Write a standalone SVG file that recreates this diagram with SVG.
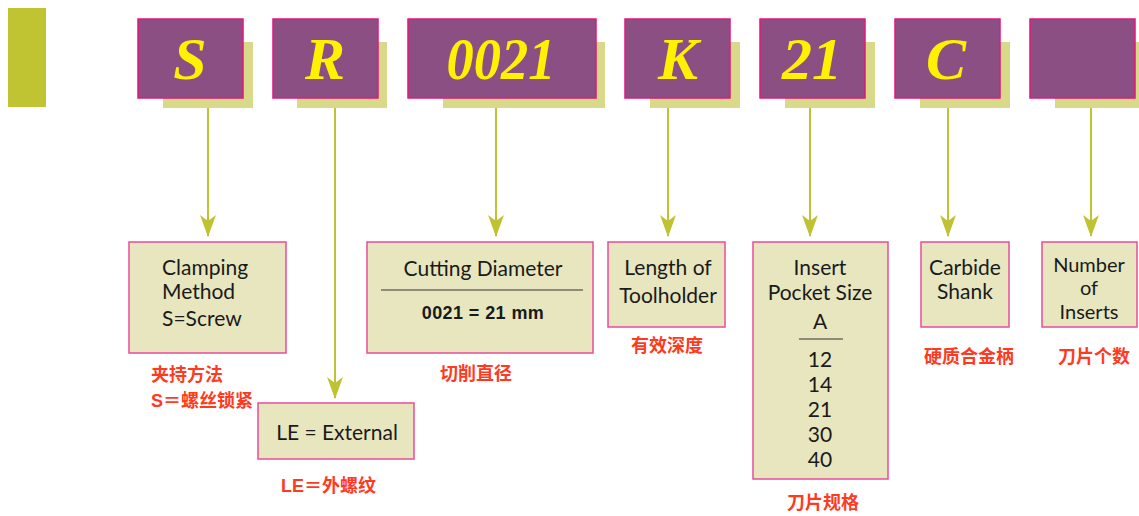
<svg xmlns="http://www.w3.org/2000/svg" width="1139" height="516" viewBox="0 0 1139 516">
<defs>
<marker id="ah" markerWidth="22" markerHeight="16" refX="21" refY="8" orient="auto" markerUnits="userSpaceOnUse" viewBox="0 0 22 16">
<path d="M0,0 L6,8 L0,16 L22,8 Z" fill="#bfc233"/>
</marker>
</defs>
<style>
.code{fill:#8b4f83;stroke:#e4157e;stroke-width:1.5}
.sh{fill:#d9d98a}
.ct{font-family:"Liberation Serif",serif;font-weight:bold;font-style:italic;font-size:60px;fill:#fff200;text-anchor:middle}
.box{fill:#e7e6be;stroke:#ea4b9c;stroke-width:1.5}
.t{font-family:Lato,"Open Sans",sans-serif;font-size:21px;fill:#1a1a1a;text-anchor:middle}
.ts{font-size:20px}
.tl{text-anchor:start}
.tb{font-family:"Liberation Sans",Arial,sans-serif;font-size:18px;font-weight:bold;fill:#1a1a1a;text-anchor:middle;letter-spacing:0.4px}
.cn{font-family:"Liberation Sans","Noto Sans CJK SC",sans-serif;font-size:18px;font-weight:bold;fill:#ff3b1f}
.ln{stroke:#bfc233;stroke-width:2;fill:none}
.rule{stroke:#333;stroke-width:1.2}
</style>
<rect x="8" y="8" width="38" height="99" fill="#c0c432"/>
<g id="code-S"><rect class="sh" x="163" y="42" width="90" height="66"/><rect class="code" x="138" y="19" width="105" height="79"/><text class="ct" x="190" y="79">S</text></g>
<g id="code-R"><rect class="sh" x="297" y="42" width="90" height="66"/><rect class="code" x="273" y="19" width="105" height="79"/><text class="ct" x="325" y="79">R</text></g>
<g id="code-0021"><rect class="sh" x="443" y="42" width="162" height="66"/><rect class="code" x="408" y="19" width="188" height="79"/><text class="ct" x="501" y="79" textLength="109" lengthAdjust="spacingAndGlyphs">0021</text></g>
<g id="code-K"><rect class="sh" x="650" y="42" width="90" height="66"/><rect class="code" x="625" y="19" width="105" height="79"/><text class="ct" x="678" y="79">K</text></g>
<g id="code-21"><rect class="sh" x="785" y="42" width="90" height="66"/><rect class="code" x="760" y="19" width="105" height="79"/><text class="ct" x="812" y="79">21</text></g>
<g id="code-C"><rect class="sh" x="920" y="42" width="90" height="66"/><rect class="code" x="895" y="19" width="105" height="79"/><text class="ct" x="946" y="79">C</text></g>
<g id="code-blank"><rect class="sh" x="1055" y="42" width="90" height="66"/><rect class="code" x="1030" y="19" width="105" height="79"/></g>
<g id="connectors">
<line class="ln" x1="208" y1="108" x2="208" y2="236" marker-end="url(#ah)"/>
<line class="ln" x1="335" y1="108" x2="335" y2="398" marker-end="url(#ah)"/>
<line class="ln" x1="496" y1="108" x2="496" y2="236" marker-end="url(#ah)"/>
<line class="ln" x1="668" y1="108" x2="668" y2="236" marker-end="url(#ah)"/>
<line class="ln" x1="810" y1="108" x2="810" y2="236" marker-end="url(#ah)"/>
<line class="ln" x1="948" y1="108" x2="948" y2="236" marker-end="url(#ah)"/>
<line class="ln" x1="1091" y1="108" x2="1091" y2="236" marker-end="url(#ah)"/>
</g>
<g id="clamping"><rect class="box" x="129" y="242" width="157" height="111"/>
<text class="t tl" x="162" y="275">Clamping</text>
<text class="t tl" x="162" y="299">Method</text>
<text class="t tl" x="162" y="326">S=Screw</text>
<text class="cn" x="151" y="381">夹持方法</text>
<text class="cn" x="151" y="407">S＝螺丝锁紧</text></g>
<g id="external"><rect class="box" x="258" y="403" width="156" height="56"/>
<text class="t" x="337" y="440">LE = External</text>
<text class="cn" x="281" y="492">LE＝外螺纹</text></g>
<g id="diameter"><rect class="box" x="367" y="242" width="226" height="111"/>
<text class="t" x="483" y="276">Cutting Diameter</text>
<line class="rule" x1="381" y1="290" x2="583" y2="290"/>
<text class="tb" x="483" y="319">0021 = 21 mm</text>
<text class="cn" x="440" y="380">切削直径</text></g>
<g id="length"><rect class="box" x="608" y="242" width="117" height="85"/>
<text class="t" x="668" y="275">Length of</text>
<text class="t" x="668" y="303">Toolholder</text>
<text class="cn" x="631" y="352">有效深度</text></g>
<g id="pocket"><rect class="box" x="753" y="242" width="135" height="237"/>
<text class="t" x="820" y="275">Insert</text>
<text class="t" x="820" y="300">Pocket Size</text>
<text class="t" x="820" y="329">A</text>
<line class="rule" x1="799" y1="339" x2="843" y2="339"/>
<text class="t" x="820" y="367">12</text>
<text class="t" x="820" y="392">14</text>
<text class="t" x="820" y="417">21</text>
<text class="t" x="820" y="442">30</text>
<text class="t" x="820" y="467">40</text>
<text class="cn" x="787" y="509">刀片规格</text></g>
<g id="carbide"><rect class="box" x="921" y="242" width="88" height="85"/>
<text class="t" x="965" y="275">Carbide</text>
<text class="t" x="965" y="299">Shank</text>
<text class="cn" x="924" y="363">硬质合金柄</text></g>
<g id="inserts"><rect class="box" x="1042" y="242" width="95" height="85"/>
<text class="t ts" x="1089" y="272">Number</text>
<text class="t ts" x="1089" y="295">of</text>
<text class="t ts" x="1089" y="319">Inserts</text>
<text class="cn" x="1058" y="363">刀片个数</text></g>
</svg>
